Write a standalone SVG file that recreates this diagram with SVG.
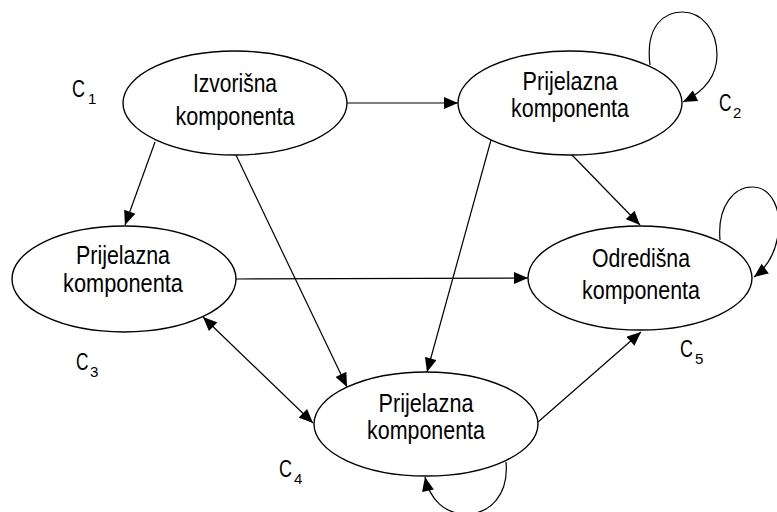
<svg xmlns="http://www.w3.org/2000/svg" width="777" height="512" viewBox="0 0 777 512">
<style>
  .node ellipse { fill: #ffffff; stroke: #000000; stroke-width: 1.4; }
  .lbl { font-family: "Liberation Sans", Arial, sans-serif; font-size: 25px; fill: #000000; text-anchor: middle; }
  .cl { font-family: "Liberation Sans", Arial, sans-serif; font-size: 23px; fill: #000000; }
  .sub { font-family: "Liberation Sans", Arial, sans-serif; font-size: 15px; fill: #000000; }
  #connectors path { fill: none; stroke: #000000; stroke-width: 1.2; }
  .arr { marker-end: url(#ah); }
</style>
<defs>
  <marker id="ah" viewBox="0 0 14 12" refX="14" refY="6" markerWidth="15" markerHeight="12" orient="auto-start-reverse" markerUnits="userSpaceOnUse">
    <path d="M0,0 L14,6 L0,12 z" fill="#000000"/>
  </marker>
</defs>
<rect width="777" height="512" fill="#ffffff"/>
<g id="connectors">
  <path class="arr" d="M347,103 L458,103"/>
  <path class="arr" d="M155,142 L125,225"/>
  <path class="arr" d="M236,155 L347,387"/>
  <path class="arr" d="M491,140 L427,372"/>
  <path class="arr" d="M572,155 L640,225"/>
  <path class="arr" d="M236,279 L528,278"/>
  <path class="arr" marker-start="url(#ah)" d="M203,317 L313,423"/>
  <path class="arr" d="M538,422 L641,332"/>
  <path class="arr" d="M650,65 C645,25 665,12 682,12 C702,12 717,30 717,55 C717,78 703,92 683,102"/>
  <path class="arr" d="M720,240 C717,205 735,187 752,187 C772,187 782,210 778,235 C775,255 766,268 754,277"/>
  <path class="arr" d="M506,462 C509,495 490,514 466,514 C445,514 430,500 425,477"/>
</g>
<g id="c1" class="node">
  <ellipse cx="235" cy="103" rx="112" ry="52"/>
  <text class="lbl" x="235" y="92" textLength="84" lengthAdjust="spacingAndGlyphs">Izvorišna</text>
  <text class="lbl" x="235" y="125" textLength="119" lengthAdjust="spacingAndGlyphs">komponenta</text>
</g>
<g id="c2" class="node">
  <ellipse cx="570" cy="103" rx="112" ry="52"/>
  <text class="lbl" x="570" y="90" textLength="95" lengthAdjust="spacingAndGlyphs">Prijelazna</text>
  <text class="lbl" x="570" y="117" textLength="118" lengthAdjust="spacingAndGlyphs">komponenta</text>
</g>
<g id="c3" class="node">
  <ellipse cx="124" cy="279" rx="112" ry="53"/>
  <text class="lbl" x="123" y="264" textLength="94" lengthAdjust="spacingAndGlyphs">Prijelazna</text>
  <text class="lbl" x="123" y="292" textLength="120" lengthAdjust="spacingAndGlyphs">komponenta</text>
</g>
<g id="c5" class="node">
  <ellipse cx="640" cy="278" rx="112" ry="52"/>
  <text class="lbl" x="641" y="267" textLength="98" lengthAdjust="spacingAndGlyphs">Odredišna</text>
  <text class="lbl" x="641" y="299" textLength="118" lengthAdjust="spacingAndGlyphs">komponenta</text>
</g>
<g id="c4" class="node">
  <ellipse cx="426" cy="424" rx="112" ry="52"/>
  <text class="lbl" x="426" y="412" textLength="95" lengthAdjust="spacingAndGlyphs">Prijelazna</text>
  <text class="lbl" x="426" y="439" textLength="118" lengthAdjust="spacingAndGlyphs">komponenta</text>
</g>
<g id="labels">
  <text class="cl" transform="translate(72,97) scale(0.78,1)">C</text>
  <text class="sub" x="88" y="104">1</text>
  <text class="cl" transform="translate(719,111) scale(0.75,1)">C</text>
  <text class="sub" x="733" y="118">2</text>
  <text class="cl" transform="translate(76,370) scale(0.75,1)">C</text>
  <text class="sub" x="90" y="377">3</text>
  <text class="cl" transform="translate(279,477) scale(0.78,1)">C</text>
  <text class="sub" x="294" y="484">4</text>
  <text class="cl" transform="translate(680,357) scale(0.78,1)">C</text>
  <text class="sub" x="695" y="364">5</text>
</g>
</svg>
